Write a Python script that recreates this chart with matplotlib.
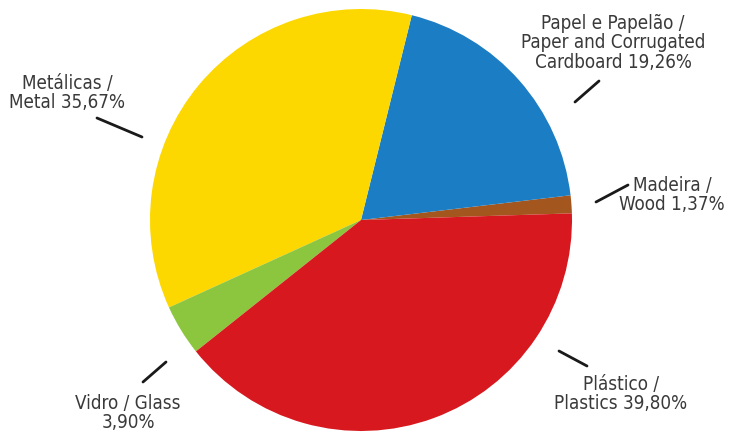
import matplotlib.pyplot as plt
import matplotlib.font_manager as fm

labels = ["Madeira /\nWood 1,37%",
          "Papel e Papelão /\nPaper and Corrugated\nCardboard 19,26%",
          "Metálicas /\nMetal 35,67%",
          "Vidro / Glass\n3,90%",
          "Plástico /\nPlastics 39,80%"]
shares = [1.37, 19.26, 35.67, 3.90, 39.80]
colors = ["#a4561f", "#1b7dc3", "#fdd800", "#8cc63e", "#d7191f"]

# label text centres and leader lines, image pixel coords (y down)
label_pos = [(672, 195), (613, 43), (67, 93), (128, 413), (621, 394)]
leaders = [((596, 202), (628, 185)), ((575, 102), (599, 81)),
           ((97, 118), (142, 137)), ((143, 382), (166, 362)),
           ((559, 351), (587, 366))]

# pick a narrow regular face if one is installed
def is_narrow(f):
    return (f.stretch in ("condensed", "semi-condensed", "extra-condensed")
            or "Narrow" in f.name or "Condensed" in f.name)

narrow = [f for f in fm.fontManager.ttflist
          if is_narrow(f) and f.weight in ("normal", "regular", 400, "book")
          and f.style == "normal"]
if narrow:
    fp = fm.FontProperties(fname=narrow[0].fname, size=13.5)
else:
    fp = fm.FontProperties(family="DejaVu Sans", stretch="condensed", size=13)

W, H = 729, 433
fig = plt.figure(figsize=(W / 100, H / 100), dpi=100)
ax = fig.add_axes([0, 0, 1, 1])

ax.pie(shares, colors=colors, startangle=1.8, counterclock=True,
       center=(361, H - 220), radius=211, frame=True,
       wedgeprops=dict(linewidth=0))
ax.set_xlim(0, W)
ax.set_ylim(0, H)
ax.set_aspect('equal')
ax.axis('off')

for lab, (x, y) in zip(labels, label_pos):
    ax.text(x, H - y, lab, ha='center', va='center', fontproperties=fp,
            color="#3a3a3a", linespacing=1.05)

for (x0, y0), (x1, y1) in leaders:
    ax.plot([x0, x1], [H - y0, H - y1], color="#1a1a1a", lw=2,
            solid_capstyle='round')

fig.savefig("out.png", dpi=100)
